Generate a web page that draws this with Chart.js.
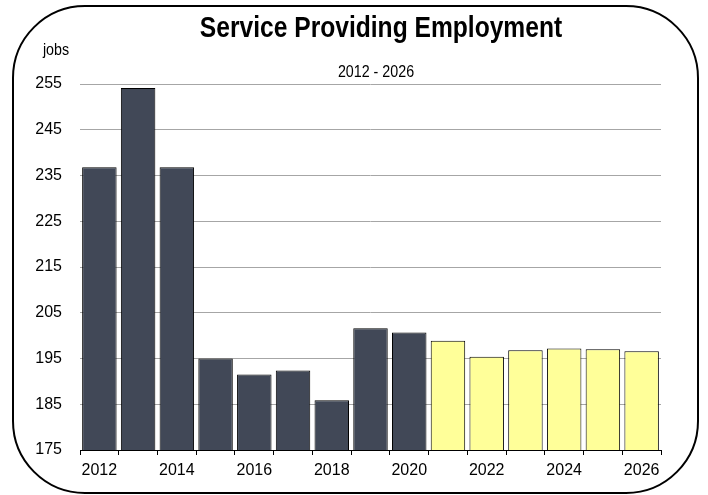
<!DOCTYPE html>
<html>
<head>
<meta charset="utf-8">
<script src="https://cdn.jsdelivr.net/npm/chart.js"></script>
<style>
  body { margin: 0; background: #fff; }
  #wrap { width: 708px; height: 495px; }
</style>
</head>
<body>
<div id="wrap"><canvas id="bar-chart" width="708" height="495"></canvas></div>
<script>
// Employment in service providing industries, thousands of jobs
const years = ['2012', '2013', '2014', '2015', '2016', '2017', '2018', '2019',
               '2020', '2021', '2022', '2023', '2024', '2025', '2026'];
const employment = [236.8, 254.1, 236.8, 195.0, 191.5, 192.4, 185.9, 201.6,
                    200.7, 198.9, 195.4, 196.8, 197.2, 197.0, 196.6];
const firstProjectedYear = '2021';
const yTicks = [175, 185, 195, 205, 215, 225, 235, 245, 255];

const titleText = 'Service Providing Employment';
const subtitleText = '2012 - 2026';
const unitText = 'jobs';

const sans = "'Liberation Sans Narrow', 'Arial Narrow', 'Liberation Sans', Arial, sans-serif";
Chart.defaults.font.family = sans;
Chart.defaults.font.size = 16;
Chart.defaults.color = '#000';

const barColors = years.map(y => (y >= firstProjectedYear ? '#ffff99' : '#414857'));

// squeeze text horizontally so it reads like a narrow face
function narrowText(ctx, text, x, y, squeeze) {
    ctx.save();
    ctx.translate(x, y);
    ctx.scale(squeeze, 1);
    ctx.fillText(text, 0, 0);
    ctx.restore();
}

// rounded frame plus the title lines, drawn straight on the canvas
const frameAndTitles = {
    id: 'frameAndTitles',
    afterDraw(chart) {
        const ctx = chart.ctx;
        ctx.save();
        ctx.beginPath();
        ctx.roundRect(13, 6, 685, 487, 72);
        ctx.lineWidth = 2;
        ctx.strokeStyle = '#000';
        ctx.stroke();

        ctx.fillStyle = '#000';
        ctx.textAlign = 'center';
        ctx.textBaseline = 'alphabetic';
        ctx.font = 'bold 30px ' + sans;
        narrowText(ctx, titleText, 381, 37, 0.82);
        ctx.font = '17px ' + sans;
        narrowText(ctx, subtitleText, 376, 77, 0.84);
        narrowText(ctx, unitText, 56, 55, 0.84);
        ctx.restore();
    }
};

const ctx = document.getElementById('bar-chart').getContext('2d');
new Chart(ctx, {
    type: 'bar',
    data: {
        labels: years,
        datasets: [{
            label: 'Service Providing Employment',
            data: employment,
            backgroundColor: barColors,
            borderColor: '#000',
            borderWidth: 1,
            barPercentage: 0.89,
            categoryPercentage: 1.0
        }]
    },
    options: {
        responsive: false,
        animation: false,
        layout: { padding: { left: 20, right: 47, top: 84, bottom: 10 } },
        plugins: {
            legend: { display: false },
            tooltip: { enabled: false }
        },
        scales: {
            x: {
                offset: true,
                afterFit: (scale) => { scale.height = 35; },
                grid: {
                    offset: true,
                    drawOnChartArea: false,
                    drawTicks: true,
                    tickLength: 5,
                    color: '#000'
                },
                border: { color: '#000', width: 1 },
                ticks: {
                    autoSkip: false,
                    maxRotation: 0,
                    padding: 6,
                    callback: function (value, index) {
                        return index % 2 === 0 ? this.getLabelForValue(value) : '';
                    }
                }
            },
            y: {
                min: 175,
                max: 255,
                afterFit: (scale) => { scale.width = 60; },
                afterBuildTicks: (scale) => { scale.ticks = yTicks.map(v => ({ value: v })); },
                grid: { color: '#a6a6a6', lineWidth: 1, drawTicks: false },
                border: { display: false },
                ticks: { padding: 18 }
            }
        }
    },
    plugins: [frameAndTitles]
});
</script>
</body>
</html>
